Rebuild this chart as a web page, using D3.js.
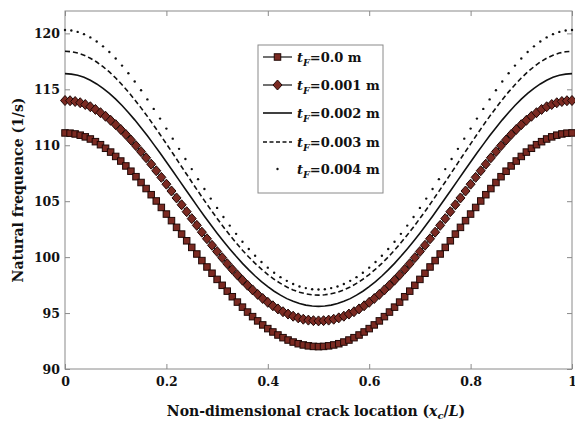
<!DOCTYPE html>
<html>
<head>
<meta charset="utf-8">
<script src="https://cdn.jsdelivr.net/npm/d3@7"></script>
<style>
  body { margin: 0; background: #fff; }
  text { font-family: "DejaVu Serif", serif; font-weight: bold; fill: #111; }
</style>
</head>
<body>
<div id="chart"></div>
<script>
// crack location (x_c / L), coarse grid for the lines and dots
var xLoc = [0, 0.0125, 0.025, 0.0375, 0.05, 0.0625, 0.075, 0.0875, 0.1, 0.1125,
  0.125, 0.1375, 0.15, 0.1625, 0.175, 0.1875, 0.2, 0.2125, 0.225, 0.2375,
  0.25, 0.2625, 0.275, 0.2875, 0.3, 0.3125, 0.325, 0.3375, 0.35, 0.3625,
  0.375, 0.3875, 0.4, 0.4125, 0.425, 0.4375, 0.45, 0.4625, 0.475, 0.4875,
  0.5, 0.5125, 0.525, 0.5375, 0.55, 0.5625, 0.575, 0.5875, 0.6, 0.6125,
  0.625, 0.6375, 0.65, 0.6625, 0.675, 0.6875, 0.7, 0.7125, 0.725, 0.7375,
  0.75, 0.7625, 0.775, 0.7875, 0.8, 0.8125, 0.825, 0.8375, 0.85, 0.8625,
  0.875, 0.8875, 0.9, 0.9125, 0.925, 0.9375, 0.95, 0.9625, 0.975, 0.9875, 1];

// finer grid for the marker series (squares, diamonds)
var xFine = [0, 0.01, 0.02, 0.03, 0.04, 0.05, 0.06, 0.07, 0.08, 0.09,
  0.1, 0.11, 0.12, 0.13, 0.14, 0.15, 0.16, 0.17, 0.18, 0.19,
  0.2, 0.21, 0.22, 0.23, 0.24, 0.25, 0.26, 0.27, 0.28, 0.29,
  0.3, 0.31, 0.32, 0.33, 0.34, 0.35, 0.36, 0.37, 0.38, 0.39,
  0.4, 0.41, 0.42, 0.43, 0.44, 0.45, 0.46, 0.47, 0.48, 0.49,
  0.5, 0.51, 0.52, 0.53, 0.54, 0.55, 0.56, 0.57, 0.58, 0.59,
  0.6, 0.61, 0.62, 0.63, 0.64, 0.65, 0.66, 0.67, 0.68, 0.69,
  0.7, 0.71, 0.72, 0.73, 0.74, 0.75, 0.76, 0.77, 0.78, 0.79,
  0.8, 0.81, 0.82, 0.83, 0.84, 0.85, 0.86, 0.87, 0.88, 0.89,
  0.9, 0.91, 0.92, 0.93, 0.94, 0.95, 0.96, 0.97, 0.98, 0.99, 1];

// natural frequency (1/s) for each thickness t_F
// t_F = 0.0 m (on xFine)
var freqT0 = [111.10, 111.08, 111.01, 110.90, 110.75, 110.56, 110.32, 110.05, 109.73, 109.39,
  109.00, 108.59, 108.15, 107.68, 107.19, 106.67, 106.13, 105.58, 105.02, 104.44,
  103.85, 103.26, 102.66, 102.06, 101.46, 100.87, 100.28, 99.69, 99.12, 98.56,
  98.01, 97.48, 96.96, 96.46, 95.98, 95.53, 95.09, 94.68, 94.30, 93.94,
  93.61, 93.31, 93.04, 92.80, 92.59, 92.41, 92.26, 92.15, 92.07, 92.02,
  92.00, 92.02, 92.07, 92.15, 92.26, 92.41, 92.59, 92.80, 93.04, 93.31,
  93.61, 93.94, 94.30, 94.68, 95.09, 95.53, 95.98, 96.46, 96.96, 97.48,
  98.01, 98.56, 99.12, 99.69, 100.28, 100.87, 101.46, 102.06, 102.66, 103.26,
  103.85, 104.44, 105.02, 105.58, 106.13, 106.67, 107.19, 107.68, 108.15, 108.59,
  109.00, 109.39, 109.73, 110.05, 110.32, 110.56, 110.75, 110.90, 111.01, 111.08, 111.10];

// t_F = 0.001 m (on xFine)
var freqT1 = [114.00, 113.98, 113.91, 113.80, 113.64, 113.44, 113.20, 112.91, 112.59, 112.23,
  111.84, 111.41, 110.96, 110.47, 109.96, 109.43, 108.88, 108.31, 107.72, 107.13,
  106.52, 105.91, 105.29, 104.68, 104.06, 103.44, 102.84, 102.23, 101.64, 101.06,
  100.50, 99.95, 99.41, 98.90, 98.41, 97.94, 97.49, 97.07, 96.67, 96.30,
  95.96, 95.65, 95.37, 95.12, 94.91, 94.72, 94.57, 94.45, 94.37, 94.32,
  94.30, 94.32, 94.37, 94.45, 94.57, 94.72, 94.91, 95.12, 95.37, 95.65,
  95.96, 96.30, 96.67, 97.07, 97.49, 97.94, 98.41, 98.90, 99.41, 99.95,
  100.50, 101.06, 101.64, 102.23, 102.84, 103.44, 104.06, 104.68, 105.29, 105.91,
  106.52, 107.13, 107.72, 108.31, 108.88, 109.43, 109.96, 110.47, 110.96, 111.41,
  111.84, 112.23, 112.59, 112.91, 113.20, 113.44, 113.64, 113.80, 113.91, 113.98, 114.00];

// t_F = 0.002 m (on xLoc)
var freqT2 = [116.40, 116.36, 116.25, 116.07, 115.81, 115.48, 115.09, 114.63, 114.12, 113.55,
  112.93, 112.27, 111.57, 110.84, 110.08, 109.30, 108.50, 107.70, 106.88, 106.07,
  105.26, 104.45, 103.66, 102.89, 102.14, 101.42, 100.73, 100.07, 99.44, 98.86,
  98.31, 97.81, 97.36, 96.95, 96.60, 96.29, 96.05, 95.85, 95.71, 95.63,
  95.60, 95.63, 95.71, 95.85, 96.05, 96.29, 96.60, 96.95, 97.36, 97.81,
  98.31, 98.86, 99.44, 100.07, 100.73, 101.42, 102.14, 102.89, 103.66, 104.45,
  105.26, 106.07, 106.88, 107.70, 108.50, 109.30, 110.08, 110.84, 111.57, 112.27,
  112.93, 113.55, 114.12, 114.63, 115.09, 115.48, 115.81, 116.07, 116.25, 116.36, 116.40];

// t_F = 0.003 m (on xLoc)
var freqT3 = [118.40, 118.36, 118.24, 118.05, 117.78, 117.44, 117.02, 116.55, 116.01, 115.41,
  114.77, 114.07, 113.34, 112.58, 111.78, 110.96, 110.12, 109.28, 108.42, 107.57,
  106.72, 105.88, 105.05, 104.24, 103.46, 102.70, 101.97, 101.28, 100.62, 100.01,
  99.44, 98.92, 98.44, 98.02, 97.65, 97.33, 97.07, 96.86, 96.72, 96.63,
  96.60, 96.63, 96.72, 96.86, 97.07, 97.33, 97.65, 98.02, 98.44, 98.92,
  99.44, 100.01, 100.62, 101.28, 101.97, 102.70, 103.46, 104.24, 105.05, 105.88,
  106.72, 107.57, 108.42, 109.28, 110.12, 110.96, 111.78, 112.58, 113.34, 114.07,
  114.77, 115.41, 116.01, 116.55, 117.02, 117.44, 117.78, 118.05, 118.24, 118.36, 118.40];

// t_F = 0.004 m (on xLoc)
var freqT4 = [120.30, 120.26, 120.13, 119.93, 119.64, 119.27, 118.84, 118.33, 117.75, 117.12,
  116.44, 115.70, 114.92, 114.10, 113.25, 112.38, 111.49, 110.59, 109.68, 108.77,
  107.87, 106.97, 106.09, 105.23, 104.40, 103.59, 102.82, 102.08, 101.38, 100.73,
  100.12, 99.57, 99.06, 98.61, 98.21, 97.88, 97.60, 97.38, 97.23, 97.13,
  97.10, 97.13, 97.23, 97.38, 97.60, 97.88, 98.21, 98.61, 99.06, 99.57,
  100.12, 100.73, 101.38, 102.08, 102.82, 103.59, 104.40, 105.23, 106.09, 106.97,
  107.87, 108.77, 109.68, 110.59, 111.49, 112.38, 113.25, 114.10, 114.92, 115.70,
  116.44, 117.12, 117.75, 118.33, 118.84, 119.27, 119.64, 119.93, 120.13, 120.26, 120.30];

var legendValues = ["0.0", "0.001", "0.002", "0.003", "0.004"];
var xTicks = [0, 0.2, 0.4, 0.6, 0.8, 1];
var yTicks = [90, 95, 100, 105, 110, 115, 120];

var width = 575;
var height = 424;
// plot box ("top" is a window property, so m* names)
var mLeft = 65, mRight = 572, mTop = 11, mBottom = 369;

var svg = d3.select('#chart').append('svg')
  .attr('width', width)
  .attr('height', height);

svg.append('rect').attr('width', width).attr('height', height).attr('fill', '#fff');

var x = d3.scaleLinear().domain([0, 1]).range([mLeft, mRight]);
var y = d3.scaleLinear().domain([90, 122]).range([mBottom, mTop]);

var axisColor = '#8a8a8a';

// ticks (inside, on all four sides)
function tickStyle(g) {
  g.select('.domain').remove();
  g.selectAll('.tick line').attr('stroke', axisColor);
  g.selectAll('.tick text')
    .attr('fill', '#111')
    .style('font-size', '12.5px')
    .style('font-weight', 'bold')
    .style('font-family', '"DejaVu Serif", serif');
}
svg.append('g')
  .attr('transform', 'translate(0,' + mBottom + ')')
  .call(d3.axisBottom(x).tickValues(xTicks).tickSize(-5).tickPadding(8)
    .tickFormat(function(d) { return d3.format('~g')(d); }))
  .call(tickStyle);
svg.append('g')
  .attr('transform', 'translate(0,' + mTop + ')')
  .call(d3.axisTop(x).tickValues(xTicks).tickSize(-5).tickFormat(''))
  .call(tickStyle);
svg.append('g')
  .attr('transform', 'translate(' + mLeft + ',0)')
  .call(d3.axisLeft(y).tickValues(yTicks).tickSize(-5).tickPadding(5))
  .call(tickStyle);
svg.append('g')
  .attr('transform', 'translate(' + mRight + ',0)')
  .call(d3.axisRight(y).tickValues(yTicks).tickSize(-5).tickFormat(''))
  .call(tickStyle);

svg.append('rect')
  .attr('x', mLeft).attr('y', mTop)
  .attr('width', mRight - mLeft).attr('height', mBottom - mTop)
  .attr('fill', 'none')
  .attr('stroke', axisColor)
  .attr('stroke-width', 1);

var pts = function(xs, vals) {
  return xs.map(function(d, i) { return [d, vals[i]]; });
};
var line = d3.line()
  .x(function(d) { return x(d[0]); })
  .y(function(d) { return y(d[1]); });

var markFill = '#7b2a22';
var markStroke = '#200806';
var diamond = 'M0,-5L4.5,0L0,5L-4.5,0Z';

// t_F = 0.004 : dots
svg.append('g').selectAll('circle')
  .data(pts(xLoc, freqT4)).enter()
  .append('circle')
  .attr('cx', function(d) { return x(d[0]); })
  .attr('cy', function(d) { return y(d[1]); })
  .attr('r', 1.2)
  .attr('fill', '#111');

// t_F = 0.003 : dashed
svg.append('path')
  .attr('d', line(pts(xLoc, freqT3)))
  .attr('fill', 'none').attr('stroke', '#111')
  .attr('stroke-width', 1.6).attr('stroke-dasharray', '5,3');

// t_F = 0.002 : solid
svg.append('path')
  .attr('d', line(pts(xLoc, freqT2)))
  .attr('fill', 'none').attr('stroke', '#111')
  .attr('stroke-width', 1.6);

// t_F = 0.001 : diamonds
svg.append('path')
  .attr('d', line(pts(xFine, freqT1)))
  .attr('fill', 'none').attr('stroke', '#111').attr('stroke-width', 1);
svg.append('g').selectAll('path')
  .data(pts(xFine, freqT1)).enter()
  .append('path')
  .attr('d', diamond)
  .attr('transform', function(d) { return 'translate(' + x(d[0]) + ',' + y(d[1]) + ')'; })
  .attr('fill', markFill).attr('stroke', markStroke).attr('stroke-width', 1);

// t_F = 0.0 : squares
svg.append('path')
  .attr('d', line(pts(xFine, freqT0)))
  .attr('fill', 'none').attr('stroke', '#111').attr('stroke-width', 1);
svg.append('g').selectAll('rect')
  .data(pts(xFine, freqT0)).enter()
  .append('rect')
  .attr('x', function(d) { return x(d[0]) - 3.25; })
  .attr('y', function(d) { return y(d[1]) - 3.25; })
  .attr('width', 6.5).attr('height', 6.5)
  .attr('fill', markFill).attr('stroke', markStroke).attr('stroke-width', 1);

// legend
var lg = svg.append('g').attr('transform', 'translate(258,45)');
lg.append('rect')
  .attr('width', 125).attr('height', 148)
  .attr('fill', '#fff').attr('stroke', axisColor);

var rowY = [12, 40, 68, 97, 124];
legendValues.forEach(function(v, i) {
  var row = lg.append('g').attr('transform', 'translate(0,' + rowY[i] + ')');
  if (i < 4) {
    row.append('line')
      .attr('x1', 5).attr('x2', 34).attr('y1', 0).attr('y2', 0)
      .attr('stroke', '#111').attr('stroke-width', i < 2 ? 1.2 : 1.6)
      .attr('stroke-dasharray', i === 3 ? '4,2.5' : null);
  }
  if (i === 0) {
    row.append('rect').attr('x', 16.25).attr('y', -3.25).attr('width', 6.5).attr('height', 6.5)
      .attr('fill', markFill).attr('stroke', markStroke);
  } else if (i === 1) {
    row.append('path').attr('d', diamond).attr('transform', 'translate(19.5,0)')
      .attr('fill', markFill).attr('stroke', markStroke);
  } else if (i === 4) {
    row.append('circle').attr('cx', 19.5).attr('cy', 0).attr('r', 1.2).attr('fill', '#111');
  }
  var t = row.append('text').attr('x', 39).attr('y', 4.5).style('font-size', '13px');
  t.append('tspan').style('font-style', 'italic').text('t');
  t.append('tspan').style('font-style', 'italic').style('font-size', '9.5px')
    .attr('dy', 4).text('F');
  t.append('tspan').attr('dy', -4).text('=' + v + ' m');
});

// axis labels
var xl = svg.append('text')
  .attr('x', 316).attr('y', 416)
  .attr('text-anchor', 'middle')
  .style('font-size', '14px');
xl.append('tspan').text('Non-dimensional crack location (');
xl.append('tspan').style('font-style', 'italic').text('x');
xl.append('tspan').style('font-style', 'italic').style('font-size', '10px').attr('dy', 3).text('c');
xl.append('tspan').attr('dy', -3).text('/');
xl.append('tspan').style('font-style', 'italic').text('L');
xl.append('tspan').text(')');

svg.append('text')
  .attr('transform', 'translate(23,' + ((mTop + mBottom) / 2) + ') rotate(-90)')
  .attr('text-anchor', 'middle')
  .style('font-size', '14px')
  .text('Natural frequence (1/s)');
</script>
</body>
</html>
